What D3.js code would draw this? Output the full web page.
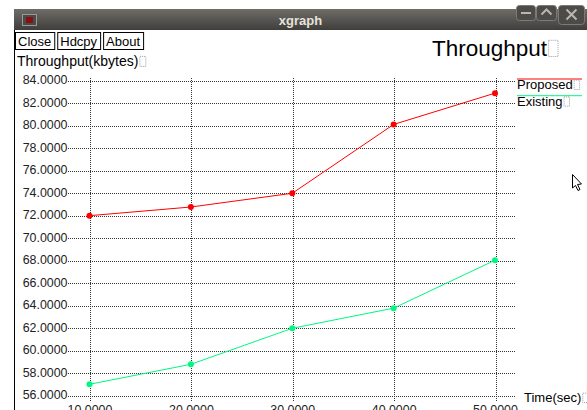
<!DOCTYPE html>
<html>
<head>
<meta charset="utf-8">
<script src="https://cdn.jsdelivr.net/npm/d3@7"></script>
<style>
  html, body { margin: 0; padding: 0; background: #fff; }
  svg { display: block; }
  text { font-family: "Liberation Sans", Arial, sans-serif; }
</style>
</head>
<body>
<svg id="win" width="587" height="410"></svg>
<script>
// Throughput over time for the two schemes
const times = [10, 20, 30, 40, 50];
const proposed = [71.94, 72.71, 73.93, 80.05, 82.83];
const existing = [56.95, 58.73, 61.93, 63.72, 67.98];
const xTicks = [10, 20, 30, 40, 50];
const yTicks = [56, 58, 60, 62, 64, 66, 68, 70, 72, 74, 76, 78, 80, 82, 84];
const seriesNames = ["Proposed", "Existing"];
const seriesColors = ["#ff0000", "#00f880"];
const buttons = ["Close", "Hdcpy", "About"];

const svg = d3.select("#win");

// ---- window frame -------------------------------------------------------
const defs = svg.append("defs");
const grad = defs.append("linearGradient").attr("id", "tb").attr("x1", 0).attr("y1", 0).attr("x2", 0).attr("y2", 1);
grad.append("stop").attr("offset", "0%").attr("stop-color", "#6e6d68");
grad.append("stop").attr("offset", "100%").attr("stop-color", "#3f3e3b");

svg.append("rect").attr("x", 14).attr("y", 9).attr("width", 573).attr("height", 21)
  .attr("fill", "url(#tb)");
svg.append("line").attr("x1", 14.5).attr("x2", 14.5).attr("y1", 30).attr("y2", 410)
  .attr("stroke", "#000");

// window icon
svg.append("rect").attr("x", 22.5).attr("y", 14.5).attr("width", 14).attr("height", 11)
  .attr("fill", "#4a4a4a").attr("stroke", "#9a9a9a");
svg.append("rect").attr("x", 26).attr("y", 17).attr("width", 7).attr("height", 6)
  .attr("fill", "#8a1010");

svg.append("text").attr("x", 300.5).attr("y", 24.5).attr("text-anchor", "middle")
  .attr("font-size", 13).attr("font-weight", "bold").attr("fill", "#e6e3dc")
  .text("xgraph");

// title-bar buttons
const wb = [{x: 516, w: 19, h: 15, k: "min"}, {x: 536, w: 20, h: 15, k: "max"}, {x: 558, w: 26, h: 19, k: "close"}];
wb.forEach(b => {
  svg.append("rect").attr("x", b.x + 0.5).attr("y", 5.5).attr("width", b.w).attr("height", b.h)
    .attr("rx", 3).attr("fill", "#4c4b48").attr("stroke", "#7b7a76");
  const cx = b.x + b.w / 2 + 0.5, cy = 5 + b.h / 2;
  if (b.k === "min") {
    svg.append("line").attr("x1", cx - 5).attr("x2", cx + 5).attr("y1", cy + 0.5).attr("y2", cy + 0.5)
      .attr("stroke", "#b8b6b0").attr("stroke-width", 2);
  } else if (b.k === "max") {
    svg.append("path").attr("d", `M${cx - 5},${cy + 2} L${cx},${cy - 3} L${cx + 5},${cy + 2}`)
      .attr("fill", "none").attr("stroke", "#b8b6b0").attr("stroke-width", 2);
  } else {
    svg.append("path").attr("d", `M${cx - 5},${cy - 5} L${cx + 5},${cy + 5} M${cx + 5},${cy - 5} L${cx - 5},${cy + 5}`)
      .attr("fill", "none").attr("stroke", "#b8b6b0").attr("stroke-width", 2);
  }
});

// ---- xgraph buttons -------------------------------------------------------
let bx = 15;
buttons.forEach(name => {
  const g = svg.append("g");
  const t = g.append("text").attr("x", bx + 3).attr("y", 45.5).attr("font-size", 13).attr("fill", "#000").text(name);
  const w = t.node().getComputedTextLength() + 6;
  g.insert("rect", "text").attr("x", bx + 0.5).attr("y", 32.5).attr("width", w).attr("height", 17)
    .attr("fill", "#fff").attr("stroke", "#000");
  bx += w + 3;
});

// text followed by the small empty glyph box xgraph prints
function labelWithBox(x, y, size, str) {
  const t = svg.append("text").attr("x", x).attr("y", y).attr("font-size", size).attr("fill", "#000").text(str);
  const len = t.node().getComputedTextLength();
  const h = size * 0.72, w = size * 0.42;
  svg.append("rect").attr("x", x + len + 1.5).attr("y", y - h + 0.5).attr("width", w).attr("height", h)
    .attr("fill", "none").attr("stroke", "#888").attr("stroke-width", 0.8).attr("stroke-dasharray", "1,1");
  return t;
}

labelWithBox(432, 56, 22.5, "Throughput");
labelWithBox(17, 66, 14, "Throughput(kbytes)");
labelWithBox(524, 402, 13, "Time(sec)");

// ---- plot ---------------------------------------------------------------
const x = d3.scaleLinear().domain([10, 50]).range([89.5, 495]);
const y = d3.scaleLinear().domain([56, 84]).range([395, 80]);
const plotL = 68, plotR = 516, plotT = 78, plotB = 401;

const yAxis = svg.append("g").attr("transform", `translate(${plotL},0)`)
  .call(d3.axisLeft(y).tickValues(yTicks).tickFormat(d3.format(".4f"))
    .tickSize(-(plotR - plotL)).tickPadding(0.5));
const xAxis = svg.append("g").attr("transform", `translate(0,${plotB})`)
  .call(d3.axisBottom(x).tickValues(xTicks).tickFormat(d3.format(".4f"))
    .tickSize(-(plotB - plotT)).tickPadding(4));

[yAxis, xAxis].forEach(a => {
  a.select(".domain").remove();
  a.selectAll(".tick line").attr("stroke", "#333").attr("stroke-dasharray", "1,1")
    .attr("shape-rendering", "crispEdges");
  a.selectAll(".tick text").attr("font-family", "'Liberation Sans', Arial, sans-serif")
    .attr("font-size", 12.4).attr("fill", "#222");
});
yAxis.selectAll(".tick line").attr("transform", "translate(0,0.5)");
xAxis.selectAll(".tick line").attr("transform", "translate(0.5,0)");

const line = d3.line().x((d, i) => x(times[i])).y(d => d);
[proposed, existing].forEach((vals, si) => {
  const col = seriesColors[si];
  svg.append("path").datum(vals.map(v => y(v)))
    .attr("d", line).attr("fill", "none").attr("stroke", col).attr("stroke-width", 1);
  svg.selectAll(null).data(vals).enter().append("circle")
    .attr("cx", (d, i) => x(times[i])).attr("cy", d => y(d)).attr("r", 3).attr("fill", col);
});

// legend
seriesNames.forEach((name, i) => {
  const ly = 79 + i * 16.7;
  svg.append("line").attr("x1", 517).attr("x2", 582).attr("y1", ly).attr("y2", ly)
    .attr("stroke", seriesColors[i]).attr("stroke-width", 1);
  labelWithBox(517, ly + 10, 13, name);
});

// mouse pointer
svg.append("path").attr("d", "M572.5,174.5 L572.5,188 L575.5,185.5 L578,190.5 L580,189.5 L577.5,184.5 L581.5,184 Z")
  .attr("fill", "#fff").attr("stroke", "#000").attr("stroke-width", 1);
</script>
</body>
</html>
